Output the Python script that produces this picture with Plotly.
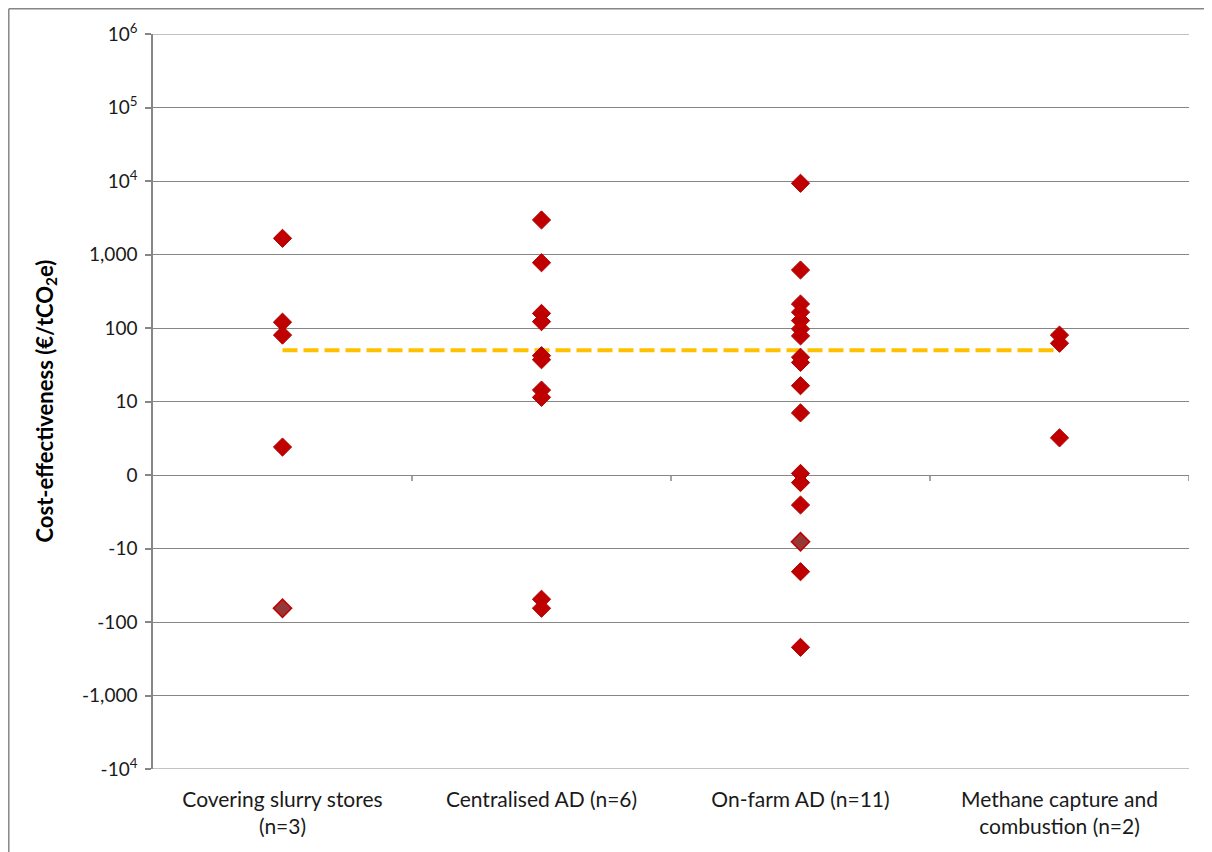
import numpy as np
import plotly.graph_objects as go

# ---------------- data ----------------
categories = [
    "Covering slurry stores<br>(n=3)",
    "Centralised AD (n=6)",
    "On-farm AD (n=11)",
    "Methane capture and<br>combustion (n=2)",
]

# cost-effectiveness values (EUR/tCO2e)
covering_vals = [1660, 120, 80, 2.4]
centralised_vals = [2950, 773, 158, 122, 42, 37, 14.3, 11.4, -49, -65]
onfarm_vals = [9310, 615, 212, 164, 126, 97, 78, 40, 34, 16.4, 7.0, 1.05,
               -1.27, -2.56, -20.7, -221]
methane_vals = [80, 62, 3.2]

# points drawn with the darker fill
covering_dark = [-65]
onfarm_dark = [-8.1]

threshold = 50  # reference line

tick_exponents = [-4, -3, -2, -1, 0, 1, 2, 3, 4, 5, 6]
tick_labels = ["-10<sup>4</sup>", "-1,000", "-100", "-10", "0", "10", "100",
               "1,000", "10<sup>4</sup>", "10<sup>5</sup>", "10<sup>6</sup>"]


def to_axis(values):
    v = np.asarray(values, dtype=float)
    out = np.where(np.abs(v) >= 1, np.sign(v) * np.log10(np.maximum(np.abs(v), 1e-12)), 0.0)
    return out


FONT = "Lato"
RED = "#C00000"
DARK = "#953735"
GRID = "#868686"

W, H = 1204, 844
L, T = 145, 26
PW, PH = 1036, 735

fig = go.Figure()

# reference line at threshold
fig.add_trace(go.Scatter(
    x=[0, len(categories) - 1],
    y=to_axis([threshold, threshold]),
    mode="lines",
    line=dict(color="#FFC000", width=4, dash="15px,6px"),
    hoverinfo="skip",
    showlegend=False,
))

groups = [covering_vals, centralised_vals, onfarm_vals, methane_vals]
for i, vals in enumerate(groups):
    fig.add_trace(go.Scatter(
        x=[i] * len(vals),
        y=to_axis(vals),
        mode="markers",
        marker=dict(symbol="diamond", size=14, color=RED,
                    line=dict(color="#B00000", width=1)),
        showlegend=False,
    ))

dark_groups = [(0, covering_dark), (2, onfarm_dark)]
for i, vals in dark_groups:
    fig.add_trace(go.Scatter(
        x=[i] * len(vals),
        y=to_axis(vals),
        mode="markers",
        marker=dict(symbol="diamond", size=14, color=DARK,
                    line=dict(color=RED, width=1.5)),
        showlegend=False,
    ))

shapes = []
# small tick marks on the zero line at category boundaries
for b in np.arange(0.5, len(categories), 1.0):
    shapes.append(dict(type="line", xref="x", yref="y", x0=b, x1=b,
                       ysizemode="pixel", yanchor=0, y0=0, y1=-6,
                       line=dict(color=GRID, width=1.5)))
# top and bottom gridlines at range ends
for yv in (tick_exponents[0], tick_exponents[-1]):
    shapes.append(dict(type="line", xref="paper", yref="y", x0=0, x1=1,
                       y0=yv, y1=yv, line=dict(color=GRID, width=1), layer="below"))
# outer chart frame (top and left edges visible)
shapes.append(dict(type="line", xref="paper", yref="paper",
                   x0=(0.8 - L) / PW, x1=(W - L) / PW,
                   y0=(T + PH - 0.8) / PH, y1=(T + PH - 0.8) / PH,
                   line=dict(color=GRID, width=1.5), layer="below"))
shapes.append(dict(type="line", xref="paper", yref="paper",
                   x0=(0.8 - L) / PW, x1=(0.8 - L) / PW,
                   y0=-(H - T - PH) / PH, y1=(T + PH - 0.8) / PH,
                   line=dict(color=GRID, width=1.5), layer="below"))

fig.update_layout(
    width=W, height=H,
    margin=dict(l=L, r=W - L - PW, t=T, b=H - T - PH),
    paper_bgcolor="white", plot_bgcolor="white",
    font=dict(family=FONT, size=20, color="#1a1a1a"),
    shapes=shapes,
    xaxis=dict(
        range=[-0.5, len(categories) - 0.5],
        tickvals=list(range(len(categories))),
        ticktext=categories,
        showgrid=False, zeroline=False, showline=False,
        ticks="", ticklabelstandoff=16,
        tickfont=dict(family=FONT, size=21, color="#1a1a1a"),
    ),
    yaxis=dict(
        range=[-4, 6],
        tickvals=tick_exponents,
        ticktext=tick_labels,
        showgrid=True, gridcolor=GRID, gridwidth=1,
        zeroline=False,
        showline=True, linecolor=GRID, linewidth=1.5,
        ticks="outside", ticklen=6, tickcolor=GRID, tickwidth=1.5,
        ticklabelstandoff=4,
        tickfont=dict(family=FONT, size=19, color="#1a1a1a"),
    ),
    annotations=[dict(
        text="<b>Cost-effectiveness (€/tCO<sub>2</sub>e)</b>",
        xref="paper", yref="paper", x=(37 - L) / PW, y=0.5,
        showarrow=False, textangle=-90,
        font=dict(family=FONT, size=22, color="black"),
        xanchor="center", yanchor="middle",
    )],
)

fig.write_html("out.html")
